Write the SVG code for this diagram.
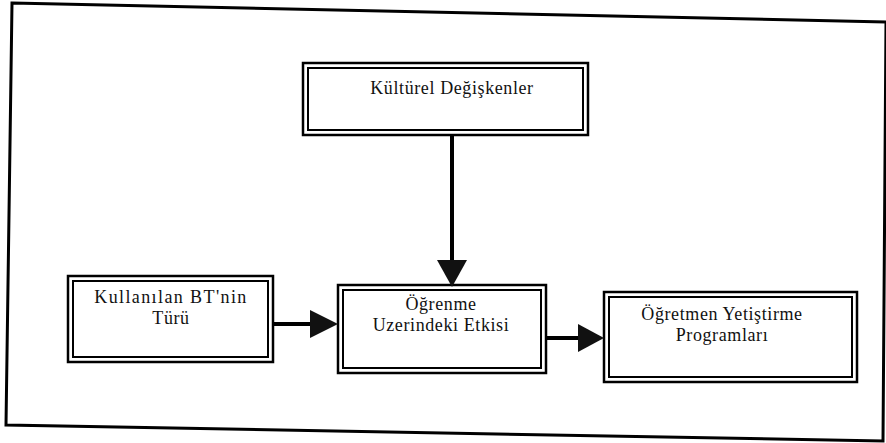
<svg xmlns="http://www.w3.org/2000/svg" width="886" height="443" viewBox="0 0 886 443">
<style>
.o{fill:none;stroke:#000;stroke-width:2.5}
.i{fill:none;stroke:#000;stroke-width:2}
.t{font-family:"Liberation Serif","DejaVu Serif",serif;font-size:18px;letter-spacing:0.6px;fill:#111;text-anchor:middle}
.ln{stroke:#000;stroke-width:4;fill:none}
.ah{fill:#111}
</style>
<rect width="886" height="443" fill="#fff"/>
<polygon id="frame" points="12,3 886,22 883,441 6,425" fill="none" stroke="#000" stroke-width="3"/>
<g id="kulturel">
<rect class="o" x="303" y="63" width="285" height="72"/>
<rect class="i" x="308" y="68" width="275" height="62"/>
<text class="t" x="452" y="94">Kültürel  Değişkenler</text>
</g>
<g id="kullanilan">
<rect class="o" x="68" y="276" width="205" height="86"/>
<rect class="i" x="73" y="281" width="195" height="76"/>
<text class="t" x="171" y="303" style="letter-spacing:1.4px">Kullanılan BT'nin</text>
<text class="t" x="171" y="324">Türü</text>
</g>
<g id="ogrenme">
<rect class="o" x="338" y="285" width="208" height="88"/>
<rect class="i" x="343" y="290" width="198" height="78"/>
<text class="t" x="441" y="310">Öğrenme</text>
<text class="t" x="441" y="331">Uzerindeki  Etkisi</text>
</g>
<g id="ogretmen">
<rect class="o" x="604" y="292" width="253" height="90"/>
<rect class="i" x="609" y="297" width="243" height="80"/>
<text class="t" x="722" y="320">Öğretmen Yetiştirme</text>
<text class="t" x="722" y="341">Programları</text>
</g>
<g id="connectors">
<line class="ln" x1="452" y1="135" x2="452" y2="262"/>
<polygon class="ah" points="437,260 467,260 452,287"/>
<line class="ln" x1="273" y1="324" x2="312" y2="324"/>
<polygon class="ah" points="310,310 310,338 338,324"/>
<line class="ln" x1="546" y1="338" x2="580" y2="338"/>
<polygon class="ah" points="578,324 578,352 604,338"/>
</g>
</svg>
